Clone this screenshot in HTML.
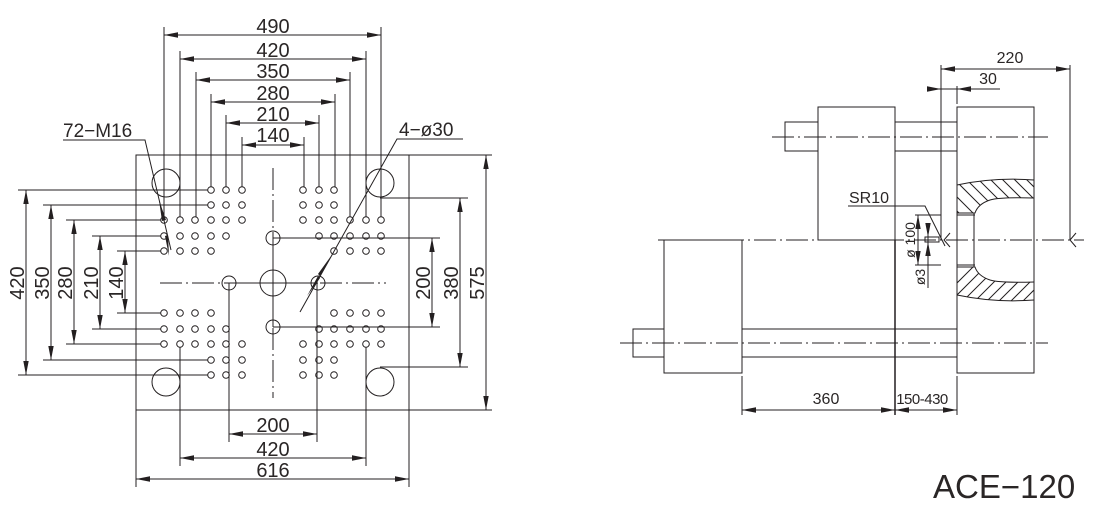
<!DOCTYPE html>
<html><head><meta charset="utf-8"><style>
html,body{margin:0;padding:0;background:#fff;}
svg{display:block;}
text{font-family:"Liberation Sans",sans-serif;fill:#2a2626;}
</style></head><body>
<svg width="1096" height="507" viewBox="0 0 1096 507" xmlns="http://www.w3.org/2000/svg">
<defs>
<marker id="a" viewBox="0 0 14 6" refX="14" refY="3" markerWidth="14" markerHeight="6" markerUnits="userSpaceOnUse" orient="auto-start-reverse"><path d="M0,0.3 L14,3 L0,5.7 Z" fill="#231f20"/></marker>
</defs>
<g stroke="#231f20" stroke-width="1" fill="none">
<rect x="136" y="155" width="273" height="255"/>
<line x1="136" y1="155" x2="492" y2="155"/>
<line x1="136" y1="410" x2="492" y2="410"/>
<line x1="136" y1="410" x2="136" y2="487"/>
<line x1="409" y1="410" x2="409" y2="487"/>
<circle cx="166" cy="183" r="14"/><circle cx="380" cy="183" r="14"/>
<circle cx="166" cy="382" r="14"/><circle cx="380" cy="382" r="14"/>
<circle cx="273" cy="283" r="13"/>
<circle cx="229" cy="283" r="7"/><circle cx="318" cy="283" r="7"/>
<circle cx="273" cy="238" r="7"/><circle cx="273" cy="327" r="7"/>
<line x1="229" y1="283" x2="318" y2="283"/>
<line x1="273" y1="238" x2="273" y2="327"/>
<g stroke-dasharray="22,4,2,4">
<line x1="160" y1="283" x2="386" y2="283"/>
<line x1="273" y1="168" x2="273" y2="398"/>
</g>
<line x1="271" y1="283" x2="275" y2="283"/><line x1="273" y1="281" x2="273" y2="285"/>
<g>
<circle cx="211" cy="190" r="3.3"/><circle cx="226" cy="190" r="3.3"/><circle cx="242" cy="190" r="3.3"/>
<circle cx="211" cy="205" r="3.3"/><circle cx="226" cy="205" r="3.3"/><circle cx="242" cy="205" r="3.3"/>
<circle cx="164" cy="220" r="3.3"/><circle cx="180" cy="220" r="3.3"/><circle cx="195" cy="220" r="3.3"/><circle cx="211" cy="220" r="3.3"/><circle cx="226" cy="220" r="3.3"/><circle cx="242" cy="220" r="3.3"/>
<circle cx="164" cy="236" r="3.3"/><circle cx="180" cy="236" r="3.3"/><circle cx="195" cy="236" r="3.3"/><circle cx="211" cy="236" r="3.3"/><circle cx="226" cy="236" r="3.3"/>
<circle cx="164" cy="251" r="3.3"/><circle cx="180" cy="251" r="3.3"/><circle cx="195" cy="251" r="3.3"/><circle cx="211" cy="251" r="3.3"/>
<circle cx="303" cy="190" r="3.3"/><circle cx="319" cy="190" r="3.3"/><circle cx="334" cy="190" r="3.3"/>
<circle cx="303" cy="205" r="3.3"/><circle cx="319" cy="205" r="3.3"/><circle cx="334" cy="205" r="3.3"/>
<circle cx="303" cy="220" r="3.3"/><circle cx="319" cy="220" r="3.3"/><circle cx="334" cy="220" r="3.3"/><circle cx="350" cy="220" r="3.3"/><circle cx="366" cy="220" r="3.3"/><circle cx="381" cy="220" r="3.3"/>
<circle cx="319" cy="236" r="3.3"/><circle cx="334" cy="236" r="3.3"/><circle cx="350" cy="236" r="3.3"/><circle cx="366" cy="236" r="3.3"/><circle cx="381" cy="236" r="3.3"/>
<circle cx="334" cy="251" r="3.3"/><circle cx="350" cy="251" r="3.3"/><circle cx="366" cy="251" r="3.3"/><circle cx="381" cy="251" r="3.3"/>
<circle cx="164" cy="313" r="3.3"/><circle cx="180" cy="313" r="3.3"/><circle cx="195" cy="313" r="3.3"/><circle cx="211" cy="313" r="3.3"/>
<circle cx="164" cy="329" r="3.3"/><circle cx="180" cy="329" r="3.3"/><circle cx="195" cy="329" r="3.3"/><circle cx="211" cy="329" r="3.3"/><circle cx="226" cy="329" r="3.3"/>
<circle cx="164" cy="344" r="3.3"/><circle cx="180" cy="344" r="3.3"/><circle cx="195" cy="344" r="3.3"/><circle cx="211" cy="344" r="3.3"/><circle cx="226" cy="344" r="3.3"/><circle cx="242" cy="344" r="3.3"/>
<circle cx="211" cy="360" r="3.3"/><circle cx="226" cy="360" r="3.3"/><circle cx="242" cy="360" r="3.3"/>
<circle cx="211" cy="375" r="3.3"/><circle cx="226" cy="375" r="3.3"/><circle cx="242" cy="375" r="3.3"/>
<circle cx="334" cy="313" r="3.3"/><circle cx="350" cy="313" r="3.3"/><circle cx="366" cy="313" r="3.3"/><circle cx="381" cy="313" r="3.3"/>
<circle cx="319" cy="329" r="3.3"/><circle cx="334" cy="329" r="3.3"/><circle cx="350" cy="329" r="3.3"/><circle cx="366" cy="329" r="3.3"/><circle cx="381" cy="329" r="3.3"/>
<circle cx="303" cy="344" r="3.3"/><circle cx="319" cy="344" r="3.3"/><circle cx="334" cy="344" r="3.3"/><circle cx="350" cy="344" r="3.3"/><circle cx="366" cy="344" r="3.3"/><circle cx="381" cy="344" r="3.3"/>
<circle cx="303" cy="360" r="3.3"/><circle cx="319" cy="360" r="3.3"/><circle cx="334" cy="360" r="3.3"/>
<circle cx="303" cy="375" r="3.3"/><circle cx="319" cy="375" r="3.3"/><circle cx="334" cy="375" r="3.3"/>
</g>
<line x1="164" y1="27" x2="164" y2="217"/><line x1="381" y1="27" x2="381" y2="217"/>
<line x1="180" y1="51" x2="180" y2="217"/><line x1="366" y1="51" x2="366" y2="217"/>
<line x1="196" y1="72" x2="196" y2="217"/><line x1="350" y1="72" x2="350" y2="217"/>
<line x1="211" y1="94" x2="211" y2="187"/><line x1="335" y1="94" x2="335" y2="187"/>
<line x1="226" y1="115" x2="226" y2="187"/><line x1="319" y1="115" x2="319" y2="187"/>
<line x1="242" y1="137" x2="242" y2="187"/><line x1="304" y1="137" x2="304" y2="187"/>
<line x1="164" y1="35" x2="381" y2="35" marker-start="url(#a)" marker-end="url(#a)"/>
<line x1="180" y1="59" x2="366" y2="59" marker-start="url(#a)" marker-end="url(#a)"/>
<line x1="196" y1="80" x2="350" y2="80" marker-start="url(#a)" marker-end="url(#a)"/>
<line x1="211" y1="102" x2="335" y2="102" marker-start="url(#a)" marker-end="url(#a)"/>
<line x1="226" y1="123" x2="319" y2="123" marker-start="url(#a)" marker-end="url(#a)"/>
<line x1="242" y1="145" x2="304" y2="145" marker-start="url(#a)" marker-end="url(#a)"/>
<line x1="18" y1="190" x2="208" y2="190"/><line x1="18" y1="375" x2="208" y2="375"/>
<line x1="43" y1="205" x2="208" y2="205"/><line x1="43" y1="360" x2="208" y2="360"/>
<line x1="66" y1="220" x2="161" y2="220"/><line x1="66" y1="344" x2="161" y2="344"/>
<line x1="92" y1="236" x2="161" y2="236"/><line x1="92" y1="329" x2="161" y2="329"/>
<line x1="117" y1="251" x2="161" y2="251"/><line x1="117" y1="313" x2="161" y2="313"/>
<line x1="26" y1="190" x2="26" y2="375" marker-start="url(#a)" marker-end="url(#a)"/>
<line x1="51" y1="205" x2="51" y2="360" marker-start="url(#a)" marker-end="url(#a)"/>
<line x1="74" y1="220" x2="74" y2="344" marker-start="url(#a)" marker-end="url(#a)"/>
<line x1="100" y1="236" x2="100" y2="329" marker-start="url(#a)" marker-end="url(#a)"/>
<line x1="125" y1="251" x2="125" y2="313" marker-start="url(#a)" marker-end="url(#a)"/>
<line x1="273" y1="238" x2="440" y2="238"/><line x1="273" y1="327" x2="440" y2="327"/>
<line x1="432" y1="238" x2="432" y2="327" marker-start="url(#a)" marker-end="url(#a)"/>
<line x1="380" y1="198" x2="468" y2="198"/><line x1="380" y1="367" x2="468" y2="367"/>
<line x1="460" y1="198" x2="460" y2="367" marker-start="url(#a)" marker-end="url(#a)"/>
<line x1="486" y1="155" x2="486" y2="410" marker-start="url(#a)" marker-end="url(#a)"/>
<line x1="229" y1="283" x2="229" y2="442"/><line x1="317" y1="283" x2="317" y2="442"/>
<line x1="229" y1="434" x2="317" y2="434" marker-start="url(#a)" marker-end="url(#a)"/>
<line x1="180" y1="347" x2="180" y2="466"/><line x1="366" y1="347" x2="366" y2="466"/>
<line x1="180" y1="458" x2="366" y2="458" marker-start="url(#a)" marker-end="url(#a)"/>
<line x1="136" y1="479" x2="409" y2="479" marker-start="url(#a)" marker-end="url(#a)"/>
<polyline points="63,140 145,140 171,250"/>
<polygon points="159,200 166,220 162,221" fill="#231f20" stroke="none"/>
<polygon points="167,236 171,256 168,257" fill="#231f20" stroke="none" transform="rotate(180 168 246)"/>
<polyline points="463,139 397,139 300,312"/>
<polygon points="331,256 320,276 318,274" fill="#231f20" stroke="none"/>
<polygon points="317,290 306,310 304,308" fill="#231f20" stroke="none" transform="rotate(180 312 293)"/>
<rect x="818" y="107" width="77" height="133"/>
<rect x="785" y="122" width="33" height="29"/>
<line x1="895" y1="122" x2="957" y2="122"/><line x1="895" y1="151" x2="957" y2="151"/>
<rect x="957" y="107" width="77" height="266"/>
<rect x="664" y="240" width="78" height="133"/>
<rect x="633" y="329" width="31" height="28"/>
<line x1="742" y1="329" x2="957" y2="329"/><line x1="742" y1="357" x2="957" y2="357"/>
<line x1="895" y1="240" x2="895" y2="415" stroke-width="1.5"/>
<g stroke-dasharray="22,4,2,4">
<line x1="772" y1="137" x2="1048" y2="137"/>
<line x1="658" y1="240" x2="1084" y2="240"/>
<line x1="620" y1="343" x2="1048" y2="343"/>
</g>
<clipPath id="h1"><path d="M957,185 Q995,177 1034,180 L1034,198 Q1000,197 990,200 Q978,204 975,213 L957,213 Z"/></clipPath>
<clipPath id="h2"><path d="M957,295 Q995,303 1034,300 L1034,282 Q1000,283 990,280 Q978,276 975,267 L957,267 Z"/></clipPath>
<path d="M957,185 Q995,177 1034,180 M1034,198 Q1000,197 990,200 Q978,204 975,213 L957,213"/>
<path d="M957,295 Q995,303 1034,300 M1034,282 Q1000,283 990,280 Q978,276 975,267 L957,267"/>
<line x1="957" y1="215" x2="975" y2="215"/><line x1="957" y1="265" x2="975" y2="265"/>
<line x1="974" y1="213" x2="974" y2="267"/>
<g clip-path="url(#h1)">
<path d="M940,180 l35,35 M950,175 l40,40 M962,175 l40,40 M974,175 l40,40 M986,175 l40,40 M998,175 l40,40 M1010,175 l40,40 M1022,175 l40,40 M1034,175 l40,40 M938,192 l30,30"/>
</g>
<g clip-path="url(#h2)">
<path d="M935,305 l40,-40 M947,305 l40,-40 M959,305 l40,-40 M971,305 l40,-40 M983,305 l40,-40 M995,305 l40,-40 M1007,305 l40,-40 M1019,305 l40,-40 M1031,305 l40,-40"/>
</g>
<line x1="941" y1="65" x2="941" y2="240"/>
<line x1="1070" y1="65" x2="1070" y2="240"/>
<path d="M1076,233 L1070,240 L1076,247"/>
<path d="M950,233 L944,240 L950,247"/>
<line x1="941" y1="69" x2="1070" y2="69" marker-start="url(#a)" marker-end="url(#a)"/>
<line x1="927" y1="89" x2="941" y2="89" marker-end="url(#a)"/>
<line x1="941" y1="89" x2="957" y2="89"/>
<line x1="1000" y1="89" x2="957" y2="89" marker-end="url(#a)"/>
<line x1="957" y1="86" x2="957" y2="104"/>
<line x1="742" y1="376" x2="742" y2="415"/><line x1="957" y1="376" x2="957" y2="415"/>
<line x1="742" y1="410" x2="895" y2="410" marker-start="url(#a)" marker-end="url(#a)"/>
<line x1="895" y1="410" x2="957" y2="410" marker-start="url(#a)" marker-end="url(#a)"/>
<polyline points="848,206 925,206 945,246"/>
<line x1="915" y1="215" x2="941" y2="215"/><line x1="915" y1="265" x2="941" y2="265"/>
<line x1="918" y1="215" x2="918" y2="265" marker-start="url(#a)" marker-end="url(#a)"/>
<rect x="925" y="237" width="14" height="5"/>
<line x1="928" y1="226" x2="928" y2="288"/>
<line x1="928" y1="226" x2="928" y2="237" marker-end="url(#a)"/>
<line x1="928" y1="253" x2="928" y2="242" marker-end="url(#a)"/>
</g>
<g font-size="20" text-anchor="middle">
<text x="273" y="33">490</text>
<text x="273" y="57">420</text>
<text x="273" y="78">350</text>
<text x="273" y="100">280</text>
<text x="273" y="121">210</text>
<text x="273" y="142">140</text>
<text x="273" y="432">200</text>
<text x="273" y="456">420</text>
<text x="273" y="477">616</text>
<text transform="translate(24,283) rotate(-90)">420</text>
<text transform="translate(49,283) rotate(-90)">350</text>
<text transform="translate(72,283) rotate(-90)">280</text>
<text transform="translate(98,283) rotate(-90)">210</text>
<text transform="translate(123,283) rotate(-90)">140</text>
<text transform="translate(430,283) rotate(-90)">200</text>
<text transform="translate(458,283) rotate(-90)">380</text>
<text transform="translate(484,283) rotate(-90)">575</text>
</g>
<text x="63" y="137" font-size="19">72−M16</text>
<text x="399" y="136" font-size="19">4−ø30</text>
<g font-size="16">
<text x="1010" y="63" text-anchor="middle">220</text>
<text x="988" y="84" text-anchor="middle">30</text>
<text x="849" y="203">SR10</text>
<text x="826" y="404" text-anchor="middle">360</text>
<text x="922" y="404" text-anchor="middle" font-size="15" letter-spacing="-0.5">150-430</text>
<text transform="translate(915,240) rotate(-90)" text-anchor="middle" font-size="14">ø 100</text>
<text transform="translate(925,277) rotate(-90)" text-anchor="middle" font-size="14">ø3</text>
</g>
<text x="933" y="498" font-size="33" fill="#3a3a3a">ACE−120</text>
</svg>
</body></html>
